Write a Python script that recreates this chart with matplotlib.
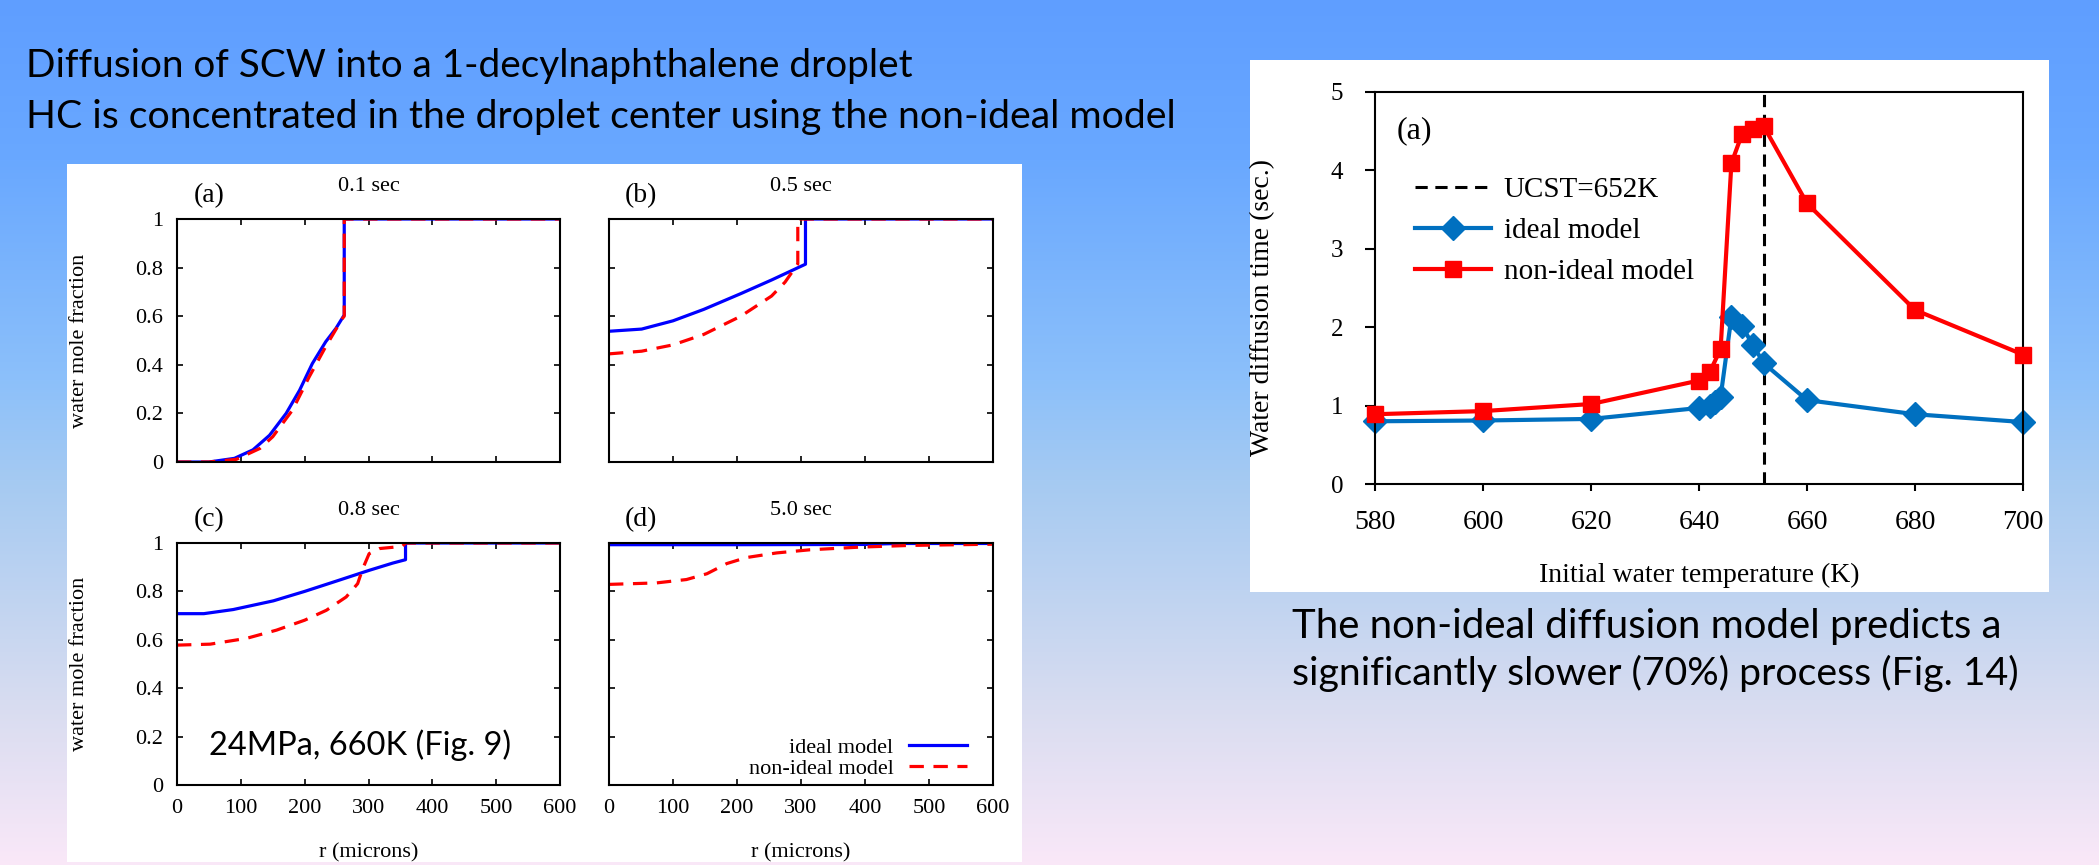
import matplotlib
matplotlib.use('Agg')
import matplotlib.pyplot as plt
import numpy as np
from matplotlib.patches import Rectangle
from matplotlib.lines import Line2D
from matplotlib.ticker import FormatStrFormatter

#data==========================================================================

# water mole fraction profiles, r in microns
r_a_ideal = [0, 50, 90, 119, 145, 171, 192, 212, 233, 249, 262, 262, 600]
w_a_ideal = [0, 0.0, 0.015, 0.05, 0.11, 0.2, 0.295, 0.405, 0.495, 0.55, 0.605, 1, 1]
r_a_non = [0, 50, 93, 130, 150, 181, 207, 233, 259, 262, 262, 600]
w_a_non = [0, 0, 0.011, 0.056, 0.104, 0.214, 0.35, 0.475, 0.59, 0.6, 1, 1]

r_b_ideal = [0, 51, 100, 148, 206, 254, 307, 307, 600]
w_b_ideal = [0.538, 0.547, 0.581, 0.628, 0.693, 0.749, 0.814, 1, 1]
r_b_non = [0, 51, 100, 148, 206, 254, 275, 287, 295, 295, 600]
w_b_non = [0.445, 0.456, 0.482, 0.525, 0.6, 0.683, 0.74, 0.785, 0.815, 1, 1]

r_c_ideal = [0, 42, 88, 151, 200, 249, 301, 338, 358, 358, 600]
w_c_ideal = [0.708, 0.708, 0.725, 0.761, 0.80, 0.842, 0.887, 0.917, 0.931, 1, 1]
r_c_non = [0, 52, 109, 156, 200, 234, 265, 283, 291, 301, 317, 353, 358, 600]
w_c_non = [0.578, 0.582, 0.606, 0.64, 0.681, 0.722, 0.777, 0.832, 0.894, 0.956, 0.977, 0.986, 1, 1]

r_d_ideal = [0, 200, 400, 450, 600]
w_d_ideal = [0.993, 0.993, 0.994, 0.998, 0.998]
r_d_non = [0, 74, 121, 153, 184, 215, 262, 314, 392, 470, 600]
w_d_non = [0.829, 0.835, 0.849, 0.873, 0.915, 0.94, 0.959, 0.972, 0.983, 0.99, 0.995]

panel_tags = ['(a)', '(b)', '(c)', '(d)']
panel_times = ['0.1 sec', '0.5 sec', '0.8 sec', '5.0 sec']

# diffusion time vs initial temperature
T_ideal = [580, 600, 620, 640, 642, 643, 644, 646, 648, 650, 652, 660, 680, 700]
t_ideal = [0.80, 0.81, 0.83, 0.97, 1.0, 1.05, 1.11, 2.13, 2.01, 1.77, 1.54, 1.07, 0.89, 0.79]
T_non = [580, 600, 620, 640, 642, 644, 646, 648, 650, 652, 660, 680, 700]
t_non = [0.89, 0.93, 1.02, 1.32, 1.43, 1.72, 4.09, 4.47, 4.53, 4.56, 3.58, 2.22, 1.65]
ucst = 652

#figure setup==================================================================

W, H = 2099, 865
fig = plt.figure(figsize=(W/100, H/100), dpi=100)
serif = 'Liberation Serif'
slide = 'Lato'

def box(l, t, r, b):
    return [l/W, 1 - b/H, (r - l)/W, (b - t)/H]

# background gradient + white picture frames
gy = [0, 160, 380, 480, 700, 865]
gc = [(95, 158, 255), (105, 168, 255), (140, 192, 250), (165, 202, 242), (215, 220, 240), (250, 232, 248)]
yy = np.arange(H)
grad = np.stack([np.interp(yy, gy, [c[i] for c in gc]) for i in range(3)], axis=-1)/255
bg = fig.add_axes([0, 0, 1, 1])
bg.imshow(grad[:, None, :], aspect='auto', extent=[0, 1, 0, 1])
bg.axis('off')
bg.set_zorder(-10)
for l, t, r, b in [(67, 164, 1022, 862), (1250, 60, 2049, 592)]:
    bg.add_patch(Rectangle((l/W, 1 - b/H), (r - l)/W, (b - t)/H,
                           transform=bg.transAxes, facecolor='white', edgecolor='none'))

#four profile panels===========================================================

profiles = [(r_a_ideal, w_a_ideal, r_a_non, w_a_non),
            (r_b_ideal, w_b_ideal, r_b_non, w_b_non),
            (r_c_ideal, w_c_ideal, r_c_non, w_c_non),
            (r_d_ideal, w_d_ideal, r_d_non, w_d_non)]
boxes = [box(177, 219, 560, 462), box(609, 219, 993, 462),
         box(177, 543, 560, 785), box(609, 543, 993, 785)]
dash = (0, (4.5, 3))

for i in range(4):
    ax = fig.add_axes(boxes[i])
    ri, wi, rn, wn = profiles[i]
    ax.plot(ri, wi, color='#0000ff', lw=2.3, label='ideal model')
    ax.plot(rn, wn, color='#ff0000', lw=2.3, ls=dash, label='non-ideal model')
    ax.set_xlim(0, 600)
    ax.set_ylim(0, 1)
    ax.set_xticks(np.arange(0, 601, 100))
    ax.set_yticks(np.arange(0, 1.01, 0.2))
    ax.yaxis.set_major_formatter(FormatStrFormatter('%g'))
    ax.tick_params(direction='in', top=True, right=True, length=4, width=1.2,
                   labelsize=16, pad=10)
    for lab in ax.get_xticklabels() + ax.get_yticklabels():
        lab.set_fontfamily(serif)
    for s in ax.spines.values():
        s.set_linewidth(1.5)
    if i % 2 == 1:
        ax.set_yticklabels([])
    else:
        ax.set_ylabel('water mole fraction', fontsize=16, family=serif)
        ax.yaxis.set_label_coords(-0.231, 0.5)
    if i < 2:
        ax.set_xticklabels([])
    else:
        ax.set_xlabel('r (microns)', fontsize=16, family=serif)
        ax.xaxis.set_label_coords(0.5, -0.239)
    ax.text(0.5, 1.135, panel_times[i], transform=ax.transAxes, ha='center', va='center',
            fontsize=16, family=serif)
    ax.text(0.084, 1.095, panel_tags[i], transform=ax.transAxes, ha='center', va='center',
            fontsize=20, family=serif)
    if i == 3:
        ax.legend(loc='center right', bbox_to_anchor=(0.932, 0.111), frameon=False,
                  markerfirst=False, handlelength=2.6, handletextpad=0.7, labelspacing=0.05,
                  borderpad=0, borderaxespad=0, prop={'family': serif, 'size': 16})

#diffusion time panel==========================================================

ax2 = fig.add_axes(box(1375, 92, 2023, 484))
ax2.axvline(ucst, color='black', lw=2.2, ls=(0, (4, 2.5)), zorder=1)
ax2.plot(T_ideal, t_ideal, color='#0070c0', lw=3, marker='D', ms=12, zorder=2, clip_on=False)
ax2.plot(T_non, t_non, color='#ff0000', lw=3, marker='s', ms=12, zorder=3, clip_on=False)
ax2.set_xlim(580, 700)
ax2.set_ylim(0, 5)
ax2.set_xticks(np.arange(580, 701, 20))
ax2.set_yticks(np.arange(0, 6, 1))
ax2.tick_params(axis='y', direction='out', length=7, width=1.5, labelsize=18, pad=16)
ax2.tick_params(axis='x', direction='out', length=5, width=1.5, labelsize=20, pad=14)
for lab in ax2.get_xticklabels() + ax2.get_yticklabels():
    lab.set_fontfamily(serif)
for s in ax2.spines.values():
    s.set_linewidth(1.5)
ax2.set_ylabel('Water diffusion time (sec.)', fontsize=20, family=serif)
ax2.yaxis.set_label_coords(-0.1535, 0.45)
ax2.set_xlabel('Initial water temperature (K)', fontsize=20, family=serif)
ax2.xaxis.set_label_coords(0.5, -0.2)
ax2.text(0.06, 0.902, '(a)', transform=ax2.transAxes, ha='center', va='center',
         fontsize=23, family=serif)
handles = [Line2D([], [], color='black', lw=2.2, ls=(0, (4, 2.5))),
           Line2D([], [], color='#0070c0', lw=3, marker='D', ms=12),
           Line2D([], [], color='#ff0000', lw=3, marker='s', ms=12)]
ax2.legend(handles, ['UCST=652K', 'ideal model', 'non-ideal model'], loc='upper left',
           bbox_to_anchor=(0.062, 0.784), frameon=False, handlelength=2.6,
           handletextpad=0.43, labelspacing=0.5, borderpad=0, borderaxespad=0,
           prop={'family': serif, 'size': 21})

#slide texts===================================================================

texts = []
texts.append((fig.text(26/W, 1 - 77/H, 'Diffusion of SCW into a 1-decylnaphthalene droplet',
                       family=slide, fontsize=26, va='baseline'), 887))
texts.append((fig.text(26/W, 1 - 128/H, 'HC is concentrated in the droplet center using the non-ideal model',
                       family=slide, fontsize=26, va='baseline'), 1152))
texts.append((fig.text(1292/W, 1 - 638/H, 'The non-ideal diffusion model predicts a',
                       family=slide, fontsize=26, va='baseline'), 708))
texts.append((fig.text(1292/W, 1 - 685/H, 'significantly slower (70%) process (Fig. 14)',
                       family=slide, fontsize=26, va='baseline'), 727))
texts.append((fig.text(209/W, 1 - 755/H, '24MPa, 660K (Fig. 9)',
                       family=slide, fontsize=22, va='baseline'), 302))

# match the widths of the slide text lines
for k in range(2):
    fig.canvas.draw()
    rend = fig.canvas.get_renderer()
    for t, target in texts:
        w = t.get_window_extent(rend).width
        t.set_fontsize(t.get_fontsize()*target/w)

fig.savefig('out.png', dpi=100)
